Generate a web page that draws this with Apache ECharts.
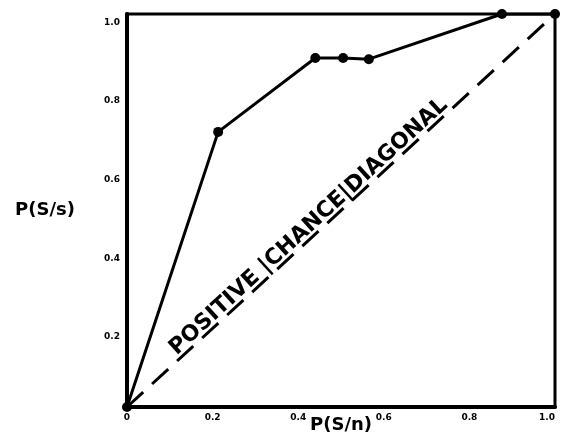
<!DOCTYPE html>
<html>
<head>
<meta charset="utf-8">
<script src="https://cdn.jsdelivr.net/npm/echarts@6/dist/echarts.min.js"></script>
<style>
  html, body { margin: 0; padding: 0; background: #fff; }
  #chart { width: 561px; height: 436px; }
</style>
</head>
<body>
<div id="chart"></div>
<script>
// Operating points: P(S/n) on x, P(S/s) on y
const falseAlarm = [0, 0.213, 0.44, 0.505, 0.565, 0.876, 1.0];
const hits       = [0, 0.70, 0.888, 0.888, 0.885, 1.0, 1.0];
// Chance diagonal end points
const chanceX = [0, 1];
const chanceY = [0, 1];
// Axis ticks
const tickValues = [0, 0.2, 0.4, 0.6, 0.8, 1.0];
const tickLabels = ['0', '0.2', '0.4', '0.6', '0.8', '1.0'];
const diagonalText = 'POSITIVE |CHANCE|DIAGONAL';
const labelSpan = [0.04, 0.84];

const curve = falseAlarm.map((x, i) => [x, hits[i]]);
const chance = chanceX.map((x, i) => [x, chanceY[i]]);

function tickText(v) {
  const i = tickValues.findIndex(t => Math.abs(t - v) < 1e-6);
  return i >= 0 ? tickLabels[i] : '';
}

const font = '"DejaVu Sans", sans-serif';
const chart = echarts.init(document.getElementById('chart'));
chart.setOption({
  animation: false,
  backgroundColor: '#fff',
  grid: {
    left: 127, right: 6, top: 14, bottom: 29,
    outerBoundsMode: 'none', containLabel: false,
    show: true, borderColor: '#000', borderWidth: 3
  },
  xAxis: {
    type: 'value', min: 0, max: 1, interval: 0.2,
    name: 'P(S/n)', nameLocation: 'middle', nameGap: 9, nameMoveOverlap: false,
    nameTextStyle: { color: '#000', fontSize: 18, fontWeight: 'bold', fontFamily: font, verticalAlign: 'top' },
    axisLine: { lineStyle: { color: '#000', width: 4 } },
    axisTick: { show: false },
    splitLine: { show: false },
    axisLabel: { color: '#000', fontSize: 9, fontWeight: 'bold', fontFamily: font, margin: 6, alignMaxLabel: 'right', formatter: tickText }
  },
  yAxis: {
    type: 'value', min: 0, max: 1, interval: 0.2,
    name: 'P(S/s)', nameLocation: 'middle', nameGap: 52, nameRotate: 0, nameMoveOverlap: false,
    nameTextStyle: { color: '#000', fontSize: 18, fontWeight: 'bold', fontFamily: font, align: 'right', padding: [0, 0, 12, 0] },
    axisLine: { lineStyle: { color: '#000', width: 4 } },
    axisTick: { show: false },
    splitLine: { show: false },
    axisLabel: { color: '#000', fontSize: 9, fontWeight: 'bold', fontFamily: font, margin: 7, verticalAlign: 'top', padding: [4, 0, 0, 0], formatter: v => v === 0 ? '' : tickText(v) }
  },
  series: [
    {
      type: 'line',
      data: chance,
      symbol: 'none',
      lineStyle: { color: '#000', width: 3, type: [22, 12] },
      z: 2,
      markLine: {
        silent: true,
        symbol: 'none',
        lineStyle: { color: 'rgba(0,0,0,0)', width: 0 },
        label: {
          show: true,
          position: 'insideMiddleTop',
          distance: -1,
          formatter: diagonalText,
          color: '#000',
          fontSize: 22,
          fontWeight: 'bold',
          fontFamily: font
        },
        data: [[{ coord: [labelSpan[0], labelSpan[0]] }, { coord: [labelSpan[1], labelSpan[1]] }]]
      }
    },
    {
      type: 'line',
      data: curve,
      symbol: 'circle',
      symbolSize: 10,
      itemStyle: { color: '#000' },
      lineStyle: { color: '#000', width: 3 },
      z: 3
    }
  ]
});
</script>
</body>
</html>
